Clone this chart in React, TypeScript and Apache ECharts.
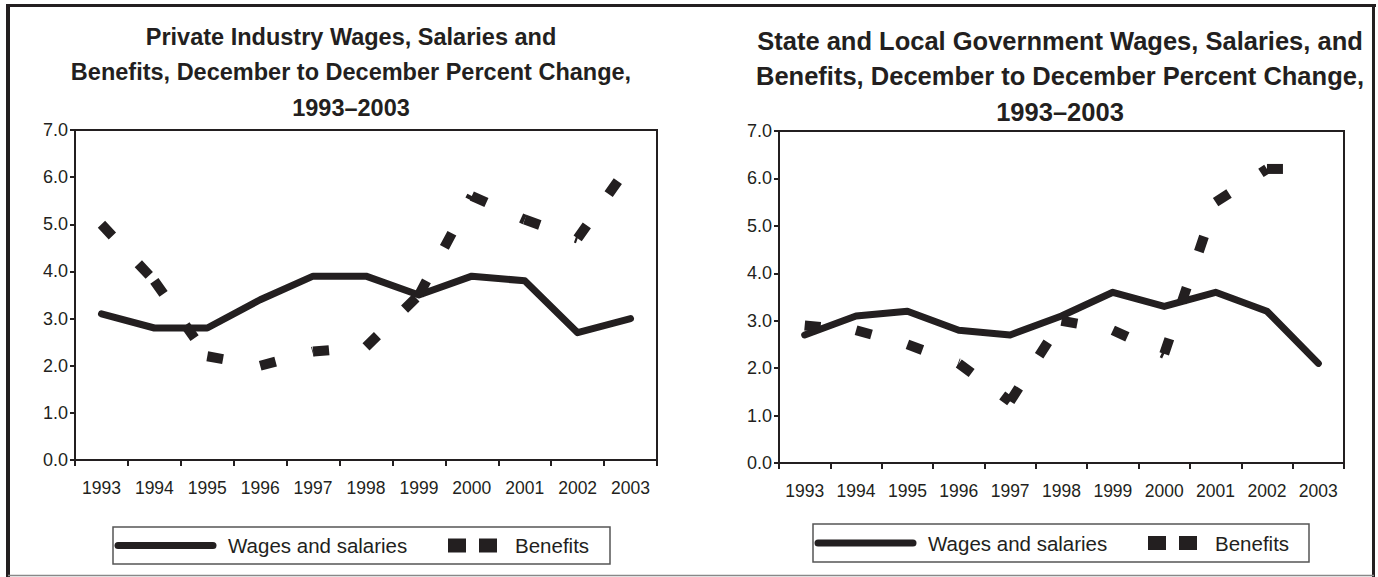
import React, { useEffect, useRef } from "react";
import * as echarts from "echarts";

const years = ["1993", "1994", "1995", "1996", "1997", "1998", "1999", "2000", "2001", "2002", "2003"];
const privateWages = [3.1, 2.8, 2.8, 3.4, 3.9, 3.9, 3.5, 3.9, 3.8, 2.7, 3.0];
const privateBenefits = [5.0, 3.8, 2.2, 2.0, 2.3, 2.4, 3.5, 5.6, 5.1, 4.7, 6.3];
const stateWages = [2.7, 3.1, 3.2, 2.8, 2.7, 3.1, 3.6, 3.3, 3.6, 3.2, 2.1];
const stateBenefits = [2.9, 2.8, 2.5, 2.1, 1.3, 3.0, 2.8, 2.3, 5.5, 6.2, 6.2];
const titleLeft = "Private Industry Wages, Salaries and\nBenefits, December to December Percent Change,\n1993–2003";
const titleRight = "State and Local Government Wages, Salaries, and\nBenefits, December to December Percent Change,\n1993–2003";
const legendNames = ["Wages and salaries", "Benefits"];

const INK = "#231f20";
const FONT = "'Liberation Sans', Arial, sans-serif";

export default function App() {
  const ref = useRef<HTMLDivElement>(null);
  useEffect(() => {
    if (!ref.current) return;
    const chart = echarts.init(ref.current, undefined, { renderer: "svg" });
    const xAxisBase = (gridIndex: number) => ({
      type: "category" as const,
      gridIndex,
      data: years,
      boundaryGap: true,
      axisLine: { lineStyle: { color: INK, width: 2 } },
      axisTick: { show: true, alignWithLabel: false, length: 6, lineStyle: { color: INK, width: 2 } },
      axisLabel: { color: INK, fontSize: 17.5, fontFamily: FONT, margin: 19, interval: 0 },
      splitLine: { show: false },
    });
    const yAxisBase = (gridIndex: number) => ({
      type: "value" as const,
      gridIndex,
      min: 0,
      max: 7,
      interval: 1,
      axisLine: { show: true, lineStyle: { color: INK, width: 2 } },
      axisTick: { show: true, length: 5, lineStyle: { color: INK, width: 2 } },
      axisLabel: { color: INK, fontSize: 18, fontFamily: FONT, margin: 7, formatter: (v: number) => v.toFixed(1) },
      splitLine: { show: false },
    });
    const wageStyle = { color: INK, width: 7, cap: "round", join: "round" };
    const benStyle = { color: INK, width: 10, type: [16, 38], cap: "butt", join: "miter" };

    // Benefits: the dash pattern restarts at every data point, so each segment is its own series.
    const benefitSegments = (vals: number[], axisIndex: number) =>
      vals.slice(0, -1).map((_, i) => ({
        name: legendNames[1],
        type: "line",
        xAxisIndex: axisIndex,
        yAxisIndex: axisIndex,
        data: vals.map((v, j) => (j === i || j === i + 1 ? v : null)),
        connectNulls: false,
        symbol: "none",
        lineStyle: benStyle,
        z: 3,
      }));

    const legendGraphic = (x0: number, y0: number, w: number, h: number, lx: number) => {
      const cy = y0 + h / 2;
      return [
        { type: "rect", shape: { x: x0, y: y0, width: w, height: h }, style: { fill: "#fff", stroke: "#555", lineWidth: 1.5 } },
        { type: "line", shape: { x1: lx, y1: cy, x2: lx + 95, y2: cy }, style: { stroke: INK, lineWidth: 7, lineCap: "round" } },
        { type: "text", x: lx + 110, y: cy, style: { text: legendNames[0], fill: INK, font: `20.5px ${FONT}`, textVerticalAlign: "middle" } },
        { type: "rect", shape: { x: lx + 330, y: cy - 7, width: 18, height: 14 }, style: { fill: INK } },
        { type: "rect", shape: { x: lx + 361, y: cy - 7, width: 18, height: 14 }, style: { fill: INK } },
        { type: "text", x: lx + 397, y: cy, style: { text: legendNames[1], fill: INK, font: `20.5px ${FONT}`, textVerticalAlign: "middle" } },
      ];
    };

    chart.setOption({
      animation: false,
      backgroundColor: "#fff",
      title: [
        {
          text: titleLeft,
          left: 346,
          top: 14,
          textAlign: "center",
          textStyle: { color: INK, fontSize: 23.5, fontWeight: "bold", fontFamily: FONT, lineHeight: 35.5 },
        },
        {
          text: titleRight,
          left: 1055,
          top: 18,
          textAlign: "center",
          textStyle: { color: INK, fontSize: 25.5, fontWeight: "bold", fontFamily: FONT, lineHeight: 35.5 },
        },
      ],
      grid: [
        { left: 75, top: 130, width: 582, height: 330, show: true, borderColor: INK, borderWidth: 2, backgroundColor: "transparent" },
        { left: 779, top: 131, width: 565, height: 332, show: true, borderColor: INK, borderWidth: 2, backgroundColor: "transparent" },
      ],
      xAxis: [xAxisBase(0), xAxisBase(1)],
      yAxis: [yAxisBase(0), yAxisBase(1)],
      series: [
        { name: legendNames[0], type: "line", xAxisIndex: 0, yAxisIndex: 0, data: privateWages, symbol: "none", lineStyle: wageStyle, z: 2 },
        ...benefitSegments(privateBenefits, 0),
        { name: legendNames[0], type: "line", xAxisIndex: 1, yAxisIndex: 1, data: stateWages, symbol: "none", lineStyle: wageStyle, z: 2 },
        ...benefitSegments(stateBenefits, 1),
      ],
      graphic: [
        { type: "line", shape: { x1: 6, y1: 5.5, x2: 1376, y2: 5.5 }, style: { stroke: INK, lineWidth: 3 } },
        { type: "line", shape: { x1: 8, y1: 4, x2: 8, y2: 577 }, style: { stroke: INK, lineWidth: 4 } },
        { type: "line", shape: { x1: 1373.5, y1: 4, x2: 1373.5, y2: 577 }, style: { stroke: INK, lineWidth: 3 } },
        { type: "line", shape: { x1: 8, y1: 575.5, x2: 1374, y2: 575.5 }, style: { stroke: "#888", lineWidth: 1.5 } },
        ...legendGraphic(113, 527, 497, 37, 118),
        ...legendGraphic(813, 524, 496, 38, 818),
      ],
    });
    return () => chart.dispose();
  }, []);
  return <div ref={ref} style={{ position: "absolute", left: 0, top: 0, width: 1378, height: 577 }} />;
}
